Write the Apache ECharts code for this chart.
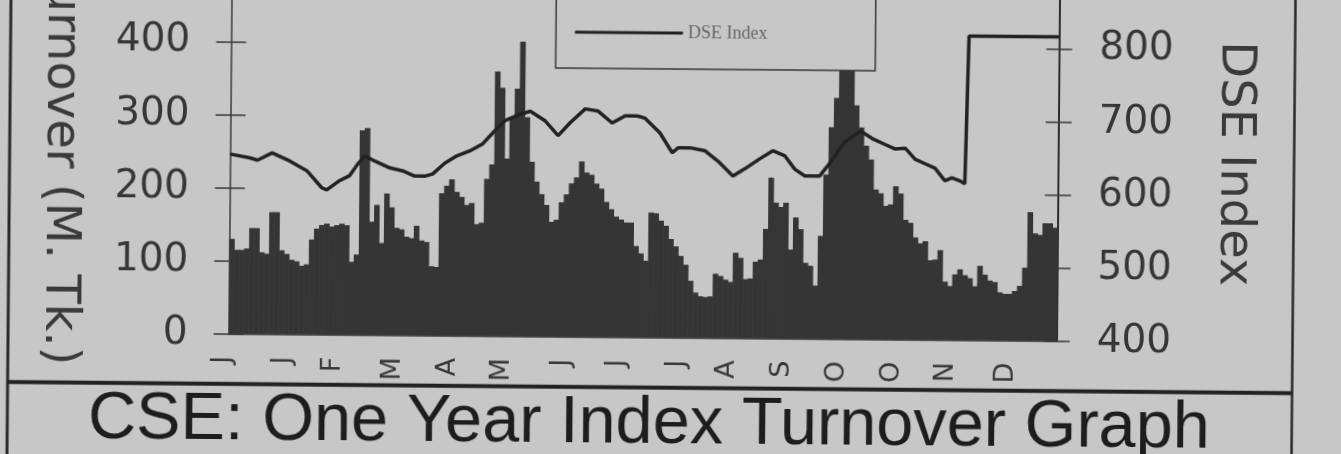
<!DOCTYPE html>
<html><head><meta charset="utf-8">
<script src="https://cdn.jsdelivr.net/npm/echarts@6/dist/echarts.min.js"></script>
<style>
html,body{margin:0;padding:0;width:1341px;height:454px;overflow:hidden;background:#c7c7c7;}
#c{position:absolute;left:-20px;top:-20px;width:1381px;height:494px;transform:rotate(0.5deg);transform-origin:690.5px 247px;}
</style></head>
<body><div id="c"></div>
<script>
// ---- data ----
const monthLabels = ['J','J','F','M','A','M','J','J','J','A','S','O','O','N','D'];
const monthLabelDay = [0,12,22,34,45,56,68,79,91,101,112,123,134,145,157];
const turnover = [130,115,115,117,145,145,112,110,167,167,
 115,110,102,100,94,96,130,145,150,152,
 148,150,152,150,100,110,280,283,155,178,
 126,194,175,147,145,135,133,150,130,128,
 95,94,195,205,214,197,190,179,182,153,
 155,215,235,362,340,243,300,339,403,300,
 239,212,195,180,157,160,184,195,210,218,
 240,225,222,210,203,185,175,165,161,157,
 157,125,115,105,171,170,160,153,135,125,
 112,100,78,62,57,56,57,88,85,80,
 77,117,110,81,82,105,108,150,220,186,
 180,186,122,166,150,104,100,73,141,225,
 290,330,380,398,390,320,290,265,246,205,
 200,183,185,210,200,164,160,140,132,135,
 109,110,123,80,74,90,97,89,85,74,
 102,90,82,80,66,64,64,68,75,100,
 176,147,145,161,161,155];
const indexDay = [0,3.9,5.5,8.4,12,15.4,18.4,19.4,22,24,
 25.6,27,29,32,34.6,37,39,40.6,43,45.4,
 48,50.6,52.6,55,58.1,60.1,63.1,65.7,68.1,71.1,
 73.7,76.5,79.1,81.5,83.1,86.1,88.6,89.8,92.2,95.2,
 97.8,100.8,103.2,106.2,108.8,111.2,113.2,115.2,118.2,119.8,
 123.2,126.3,128.9,131.2,133.2,135.3,137.3,139.3,141.3,143.3,
 144.7,146.3,147.3,147.9,166];
const dseIndex = [646,641,638,648,637,624,601,598,611,618,
 634,645,638,629,625,618,618,621,636,646,
 653,663,678,695,704,708,695,675,693,712,
 709,693,703,703,700,680,653,660,660,656,
 642,622,632,646,657,650,632,623,623,637,
 670,685,674,667,661,662,647,641,635,618,
 622,618,614,816,816];
const leftTicks = [0,100,200,300,400];
const rightTicks = [400,500,600,700,800];

const days = turnover.map((v,i)=>String(i));
const linePts = indexDay.map((d,i)=>[d, dseIndex[i]]);

const BG = '#c7c7c7';
const AX = '#3a3a3a';
const chart = echarts.init(document.getElementById('c'), null, {renderer:'canvas'});
const axisFont = {fontFamily:'DejaVu Sans', fontSize:39, color:'#363636'};
const nameFont = {fontFamily:'DejaVu Sans', fontSize:48, color:'#3a3a3a'};
chart.setOption({
  animation:false,
  backgroundColor: BG,
  title:{text:'CSE: One Year Index Turnover Graph', left:109.7, top:411.5, padding:0,
    textStyle:{fontFamily:'Liberation Sans', fontSize:66.7, fontWeight:'normal', color:'#1d1d1d'}},
  legend:{data:[{name:'DSE Index', icon:'rect'}], left:574.3, top:0, padding:[44,108,27,19],
    itemWidth:108, itemHeight:3, itemGap:0, selectedMode:false,
    backgroundColor:BG, borderColor:'#3a3a3a', borderWidth:1.5,
    textStyle:{fontFamily:'Liberation Serif', fontSize:18, color:'#666'}},
  grid:{left:249.6, right:303.3, top:0, bottom:136.3, containLabel:false, outerBoundsMode:'none'},
  xAxis:[
    {type:'category', data:days, boundaryGap:true,
     axisLine:{show:true, lineStyle:{color:AX, width:1.5}}, axisTick:{show:false},
     axisLabel:{rotate:90, margin:22, lineHeight:16, fontFamily:'DejaVu Sans', fontSize:27, color:'#383838',
       interval:(idx)=>monthLabelDay.includes(idx),
       formatter:(v,idx)=>{const k=monthLabelDay.indexOf(idx); return k>=0?(monthLabels[k]+'\n '):'';}}},
    {type:'value', min:0, max:166, show:false}
  ],
  yAxis:[
    {type:'value', position:'left', min:0, max:489.3, interval:100,
     axisLine:{show:true, lineStyle:{color:AX, width:1.5}},
     axisTick:{show:true, inside:false, length:15, customValues:leftTicks, lineStyle:{color:AX, width:1.5}},
     axisLabel:{margin:41, customValues:leftTicks, ...axisFont},
     splitLine:{show:false},
     name:'Turnover (M. Tk.)', nameLocation:'middle', nameRotate:-90, nameGap:146,
     nameTextStyle:{...nameFont, padding:[0,0,0,18]}},
    {type:'value', position:'right', min:400, max:889.3, interval:100,
     axisLine:{show:true, lineStyle:{color:'#2e2e2e', width:2}},
     axisTick:{show:true, inside:false, length:13, customValues:rightTicks, lineStyle:{color:AX, width:1.5}},
     axisLabel:{margin:40, customValues:rightTicks, ...axisFont},
     splitLine:{show:false},
     name:'DSE Index', nameLocation:'middle', nameRotate:-90, nameGap:152, nameTextStyle:nameFont},
    {type:'value', position:'left', min:0, max:489.3, interval:100,
     axisLine:{show:false}, axisLabel:{show:false}, splitLine:{show:false},
     axisTick:{show:true, inside:true, length:15, customValues:leftTicks, lineStyle:{color:AX, width:1.5}}},
    {type:'value', position:'right', min:400, max:889.3, interval:100,
     axisLine:{show:false}, axisLabel:{show:false}, splitLine:{show:false},
     axisTick:{show:true, inside:true, length:13, customValues:rightTicks, lineStyle:{color:AX, width:1.5}}}
  ],
  series:[
    {name:'Turnover', type:'bar', data:turnover, xAxisIndex:0, yAxisIndex:0,
     barWidth:5.6, barGap:'-100%',
     itemStyle:{color:'#353535'}, z:2},
    {name:'DSE Index', type:'line', data:linePts, xAxisIndex:1, yAxisIndex:1,
     showSymbol:false, symbol:'none', lineStyle:{color:'#222', width:3.5}, itemStyle:{color:'#222'}, z:3}
  ],
  graphic:[
    {type:'line', shape:{x1:29, y1:-10, x2:29, y2:510}, style:{stroke:'#2a2a2a', lineWidth:3}, silent:true},
    {type:'line', shape:{x1:1313.5, y1:-10, x2:1313.5, y2:510}, style:{stroke:'#2a2a2a', lineWidth:2.5}, silent:true},
    {type:'line', shape:{x1:29, y1:407.7, x2:1313.5, y2:407.7}, style:{stroke:'#222', lineWidth:4}, silent:true}
  ]
});
</script>
</body></html>
